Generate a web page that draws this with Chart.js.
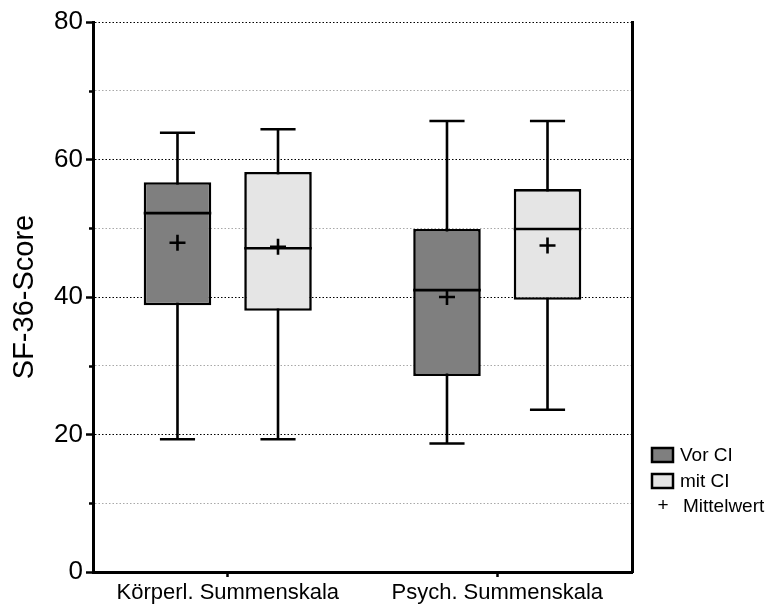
<!DOCTYPE html>
<html>
<head>
<meta charset="utf-8">
<script src="https://cdn.jsdelivr.net/npm/chart.js@4/dist/chart.umd.min.js"></script>
<style>
  html, body { margin: 0; padding: 0; background: #fff; }
  #wrap { width: 766px; height: 604px; }
</style>
</head>
<body>
<div id="wrap"><canvas id="c" width="766" height="604"></canvas></div>
<script>
// SF-36 summary scores before and with CI
const categories = ['Körperl. Summenskala', 'Psych. Summenskala'];
const seriesNames = ['Vor CI', 'mit CI'];
const meanLabel = 'Mittelwert';
const axisTitle = 'SF-36-Score';

// five-number summaries + mean, one entry per category
const vorMin    = [19.3, 18.7];
const vorQ1     = [38.8, 28.5];
const vorMedian = [52.2, 41.0];
const vorQ3     = [56.7, 49.9];
const vorMax    = [63.9, 65.6];
const vorMean   = [47.9, 40.0];

const mitMin    = [19.3, 23.6];
const mitQ1     = [38.0, 39.6];
const mitMedian = [47.1, 49.9];
const mitQ3     = [58.2, 55.7];
const mitMax    = [64.4, 65.6];
const mitMean   = [47.3, 47.5];

const yMin = 0, yMax = 80, yMinorStep = 10, yMajorStep = 20;

const FONT = '"Liberation Sans", Arial, Helvetica, sans-serif';
const fills = ['#7f7f7f', '#e5e5e5'];
const LW = 2.6;

function boxData(q1, q3) { return q1.map((v, i) => [v, q3[i]]); }

// whiskers, medians and means drawn around the floating bars
const boxplotParts = {
  id: 'boxplotParts',
  beforeDatasetsDraw(chart) {
    const ctx = chart.ctx, y = chart.scales.y;
    chart.data.datasets.forEach((ds, di) => {
      const meta = chart.getDatasetMeta(di);
      meta.data.forEach((bar, j) => {
        const {x, width} = bar.getProps(['x', 'width'], true);
        const yLo = y.getPixelForValue(ds.stats.min[j]);
        const yHi = y.getPixelForValue(ds.stats.max[j]);
        const cap = width * 0.26;
        ctx.save();
        ctx.strokeStyle = '#000';
        ctx.lineWidth = LW;
        ctx.beginPath();
        ctx.moveTo(x, yLo); ctx.lineTo(x, yHi);
        ctx.moveTo(x - cap, yLo); ctx.lineTo(x + cap, yLo);
        ctx.moveTo(x - cap, yHi); ctx.lineTo(x + cap, yHi);
        ctx.stroke();
        ctx.restore();
      });
    });
  },
  afterDatasetsDraw(chart) {
    const ctx = chart.ctx, y = chart.scales.y;
    chart.data.datasets.forEach((ds, di) => {
      const meta = chart.getDatasetMeta(di);
      meta.data.forEach((bar, j) => {
        const {x, width} = bar.getProps(['x', 'width'], true);
        const yMed = y.getPixelForValue(ds.stats.median[j]);
        const yMean = y.getPixelForValue(ds.stats.mean[j]);
        ctx.save();
        ctx.strokeStyle = '#000';
        ctx.lineWidth = LW;
        ctx.beginPath();
        ctx.moveTo(x - width / 2, yMed); ctx.lineTo(x + width / 2, yMed);
        ctx.stroke();
        const m = 8;
        ctx.beginPath();
        ctx.moveTo(x - m, yMean); ctx.lineTo(x + m, yMean);
        ctx.moveTo(x, yMean - m); ctx.lineTo(x, yMean + m);
        ctx.stroke();
        ctx.restore();
      });
    });
  },
  afterDraw(chart) {
    const ctx = chart.ctx, y = chart.scales.y, area = chart.chartArea;
    // short minor tick marks on the value axis
    ctx.save();
    ctx.strokeStyle = '#000';
    ctx.lineWidth = 2.5;
    for (let v = yMin + yMinorStep; v < yMax; v += yMajorStep) {
      const py = Math.round(y.getPixelForValue(v)) + 0.5;
      ctx.beginPath();
      ctx.moveTo(area.left - 4, py); ctx.lineTo(area.left, py);
      ctx.stroke();
    }
    ctx.restore();

    // legend to the right of the plot frame
    const lx = area.right + 20;
    const rows = [455, 481, 506];
    ctx.save();
    ctx.font = '19px ' + FONT;
    ctx.textBaseline = 'middle';
    ctx.fillStyle = '#000';
    seriesNames.forEach((name, i) => {
      const cy = rows[i];
      ctx.fillStyle = fills[i];
      ctx.fillRect(lx, cy - 7, 21, 14);
      ctx.strokeStyle = '#000';
      ctx.lineWidth = 2.5;
      ctx.strokeRect(lx, cy - 7, 21, 14);
      ctx.fillStyle = '#000';
      ctx.textAlign = 'left';
      ctx.fillText(name, lx + 28, cy + 1);
    });
    ctx.textAlign = 'center';
    ctx.fillText('+', lx + 11, rows[2]);
    ctx.textAlign = 'left';
    ctx.fillText(meanLabel, lx + 31, rows[2] + 1);
    ctx.restore();
  }
};

new Chart(document.getElementById('c'), {
  type: 'bar',
  data: {
    labels: categories,
    datasets: [
      {
        label: seriesNames[0],
        data: boxData(vorQ1, vorQ3),
        stats: {min: vorMin, median: vorMedian, max: vorMax, mean: vorMean},
        backgroundColor: fills[0],
        borderColor: '#000',
        borderWidth: LW,
        borderSkipped: false
      },
      {
        label: seriesNames[1],
        data: boxData(mitQ1, mitQ3),
        stats: {min: mitMin, median: mitMedian, max: mitMax, mean: mitMean},
        backgroundColor: fills[1],
        borderColor: '#000',
        borderWidth: LW,
        borderSkipped: false
      }
    ]
  },
  options: {
    responsive: false,
    animation: false,
    devicePixelRatio: 1,
    categoryPercentage: 0.746,
    barPercentage: 0.672,
    layout: { padding: { top: 22, left: 0, right: 0, bottom: 0 } },
    plugins: { legend: { display: false }, tooltip: { enabled: false } },
    scales: {
      x: {
        offset: true,
        grid: { offset: false, drawOnChartArea: false, drawTicks: true, tickLength: 5, tickWidth: 2.5, tickColor: '#000' },
        border: { color: '#000', width: 3 },
        ticks: { font: { size: 22, family: FONT }, color: '#000', padding: 3, maxRotation: 0, autoSkip: false },
        afterFit(s) { s.height = 32; }
      },
      y: {
        min: yMin, max: yMax,
        ticks: {
          stepSize: yMinorStep,
          callback: v => (v % yMajorStep === 0 ? v : ''),
          font: { size: 26, family: FONT }, color: '#000', padding: 3
        },
        grid: {
          color: c => (c.tick && c.tick.value % yMajorStep === 0 ? '#000' : '#a8a8a8'),
          lineWidth: 1,
          tickLength: 7,
          tickWidth: 2.5,
          tickColor: c => (c.tick && c.tick.value % yMajorStep === 0 ? '#000' : 'rgba(0,0,0,0)')
        },
        border: { color: '#000', width: 3, dash: [1.5, 2] },
        title: { display: true, text: axisTitle, color: '#000', font: { size: 29, family: FONT }, padding: { top: 8, bottom: 0 } },
        afterFit(s) { s.width = 93; }
      },
      y2: {
        position: 'right',
        min: yMin, max: yMax,
        grid: { display: false },
        ticks: { display: false },
        border: { color: '#000', width: 3 },
        afterFit(s) { s.width = 134; }
      }
    }
  },
  plugins: [boxplotParts]
});
</script>
</body>
</html>
